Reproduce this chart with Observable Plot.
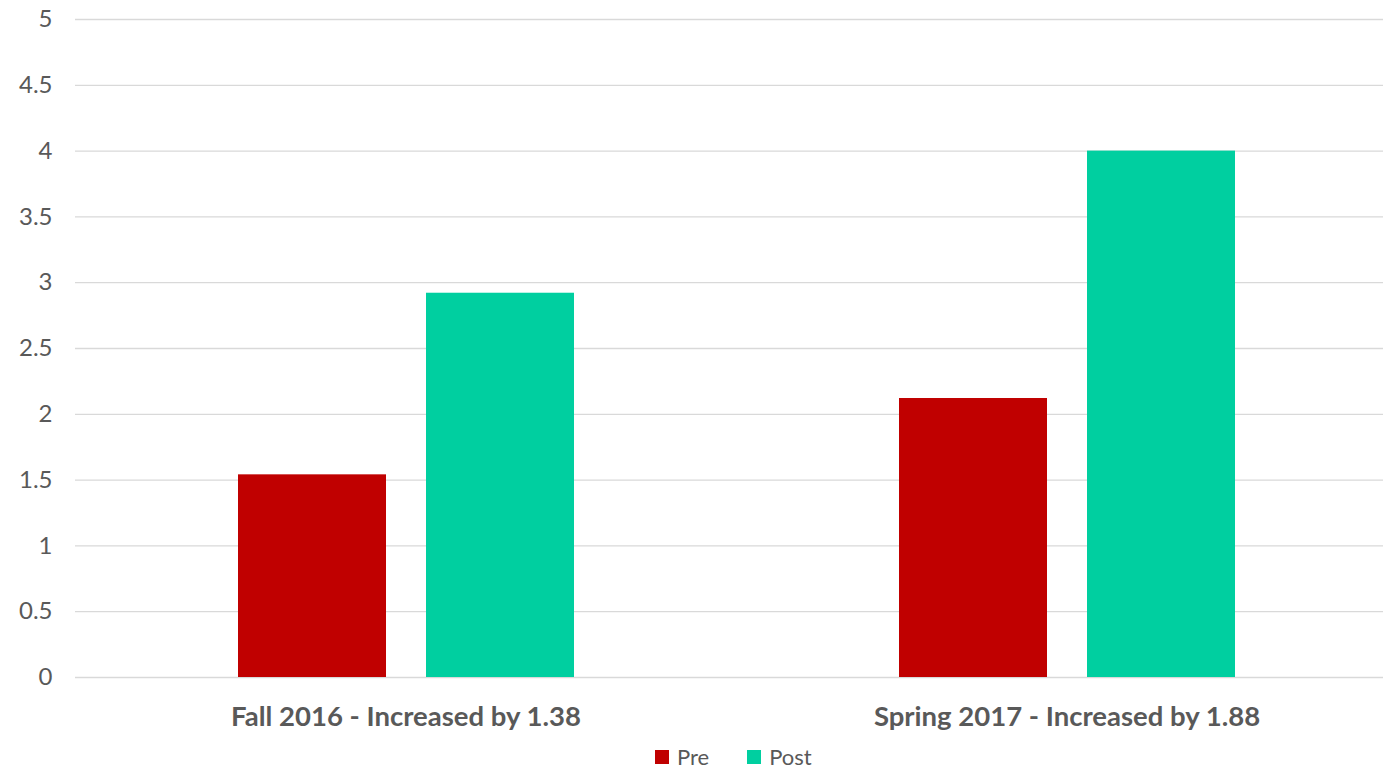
<!DOCTYPE html>
<html>
<head>
<meta charset="utf-8">
<script src="https://cdn.jsdelivr.net/npm/d3@7"></script>
<script src="https://cdn.jsdelivr.net/npm/@observablehq/plot@0.6"></script>
<style>
  html, body { margin: 0; padding: 0; background: #fff; overflow: hidden; }
  body { font-family: Lato, "Open Sans", sans-serif; }
  #chart svg { display: block; }
  #legend { display: flex; justify-content: flex-start; padding-left: 655px; gap: 38px; font-size: 22px; line-height: 26px; color: #595959; margin-top: 4px; }
  #legend .item { display: flex; align-items: center; gap: 8px; }
  #legend .sw { width: 14px; height: 14px; display: inline-block; }
</style>
</head>
<body>
<div id="chart"></div>
<div id="legend"></div>
<script>
const categories = ["Fall 2016 - Increased by 1.38", "Spring 2017 - Increased by 1.88"];
const series = ["Pre", "Post"];
const preValues = [1.54, 2.12];
const postValues = [2.92, 4.00];
const colors = ["#C00000", "#00CFA0"];
const yTicks = [0, 0.5, 1, 1.5, 2, 2.5, 3, 3.5, 4, 4.5, 5];

const rows = [];
categories.forEach((c, i) => {
  rows.push({category: c, series: "Pre", value: preValues[i]});
  rows.push({category: c, series: "Post", value: postValues[i]});
});

const chart = Plot.plot({
  width: 1383,
  height: 740,
  marginTop: 19,
  marginBottom: 63,
  marginLeft: 75,
  marginRight: 0,
  style: {fontFamily: "Lato, 'Open Sans', sans-serif", color: "#595959", background: "#fff"},
  fx: {domain: categories, range: [75, 1397], paddingInner: 0, paddingOuter: 0, label: null},
  x: {domain: series, paddingInner: 0.213, paddingOuter: 0.862, axis: null},
  y: {domain: [0, 5], axis: null, label: null},
  color: {domain: series, range: colors},
  marks: [
    Plot.ruleY(yTicks, {stroke: "#d9d9d9", strokeWidth: 1.3}),
    Plot.barY(rows, {fx: "category", x: "series", y: "value", fill: "series"}),
    Plot.axisY({ticks: yTicks, tickFormat: d => String(d), tickSize: 0, tickPadding: 23, fontSize: 24, facetAnchor: "left", fill: "#595959", label: null}),
    Plot.axisFx({anchor: "bottom", tickSize: 0, tickPadding: 29, fontSize: 27.5, fontWeight: "bold", fill: "#595959", label: null})
  ]
});
document.getElementById("chart").appendChild(chart);

const legend = document.getElementById("legend");
series.forEach((s, i) => {
  const item = document.createElement("div");
  item.className = "item";
  const sw = document.createElement("span");
  sw.className = "sw";
  sw.style.background = colors[i];
  const t = document.createElement("span");
  t.textContent = s;
  item.appendChild(sw);
  item.appendChild(t);
  legend.appendChild(item);
});
</script>
</body>
</html>
